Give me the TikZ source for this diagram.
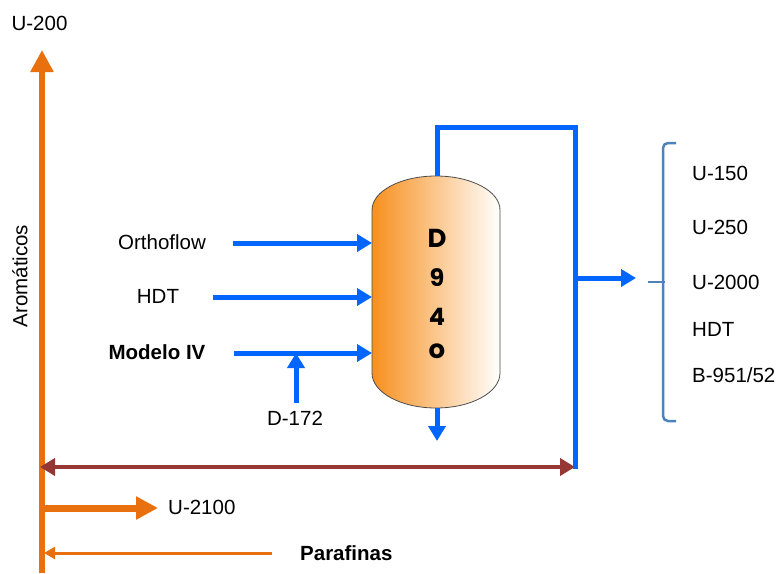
\documentclass[tikz,border=0pt]{standalone}
\usepackage{fontspec}
\setmainfont{Liberation Sans}
\newfontfamily\gothic{Poppins}
\usetikzlibrary{arrows.meta}
\definecolor{pipeblue}{RGB}{0,102,255}
\definecolor{feedorange}{RGB}{232,112,14}
\definecolor{maroon}{RGB}{149,55,53}
\definecolor{bracketblue}{RGB}{79,129,189}
\definecolor{vesselorange}{RGB}{247,144,30}
\tikzset{
  lbl/.style={font=\fontsize{20.5}{24}\selectfont, inner sep=0pt},
  blbl/.style={lbl, font=\fontsize{20.5}{24}\selectfont\bfseries},
  vtxt/.style={font=\gothic\bfseries\fontsize{26}{28}\selectfont, inner sep=0pt},
  bluepipe/.style={draw=pipeblue, line width=5pt},
  bluearrow/.style={bluepipe, -{Triangle[length=15pt,width=17pt]}},
  mainaxis/.style={draw=feedorange, line width=6pt, -{Triangle[length=22pt,width=22pt]}},
  thickorange/.style={draw=feedorange, line width=7pt, -{Triangle[length=22pt,width=22pt]}},
  thinorange/.style={draw=feedorange, line width=3pt, -{Triangle[length=11pt,width=12pt]}},
  maroonarrow/.style={draw=maroon, line width=4pt, {Triangle[length=15pt,width=17pt]}-{Triangle[length=15pt,width=17pt]}},
  bracket/.style={draw=bracketblue, line width=2.5pt, rounded corners=5pt}
}
\begin{document}
\begin{tikzpicture}[x=1pt,y=-1pt]
\useasboundingbox (0,0) rectangle (779,573);

% main orange axis (Aromaticos)
\coordinate (axbot) at (42,573);
\coordinate (axtop) at (42,50);
\draw[mainaxis] (axbot) -- (axtop);
\node[lbl] (u200) at (39.5,23) {U-200};
\node[lbl, rotate=90] (arom) at (20,276) {Aromáticos};

% vessel
\path[draw=black!70, line width=0.8pt, left color=vesselorange, right color=white]
  (372,210) -- (372,373) arc[start angle=180, end angle=360, x radius=64pt, y radius=35pt]
  -- (500,210) arc[start angle=0, end angle=180, x radius=64pt, y radius=34pt] -- cycle;
\coordinate (vtop) at (437,176);
\coordinate (vbot) at (437,408);
\coordinate (vin1) at (372,243);
\coordinate (vin2) at (372,297);
\coordinate (vin3) at (372,353);
\node[vtxt] (vD) at (437,238) {D};
\node[vtxt, font=\gothic\bfseries\fontsize{24}{28}\selectfont] (v9) at (437,278) {9};
\node[vtxt, font=\gothic\bfseries\fontsize{24}{28}\selectfont] (v4) at (437,317) {4};
\node[vtxt] (vo) at (437,351) {o};

% feeds
\node[lbl] (orth) at (162,242) {Orthoflow};
\node[lbl] (hdt) at (158,296) {HDT};
\node[blbl] (mod) at (157,352) {Modelo IV};
\node[lbl] (d172) at (295,418) {D-172};
\coordinate (orthst) at (233,243);
\coordinate (hdtst) at (213,297);
\coordinate (modst) at (234,353);
\coordinate (d172st) at (296,403);
\coordinate (d172en) at (296,353);
\draw[bluearrow] (orthst) -- (vin1);
\draw[bluearrow] (hdtst) -- (vin2);
\draw[bluearrow] (modst) -- (vin3);
\draw[bluearrow] (d172st) -- (d172en);

% bottom outlet
\coordinate (vbotend) at (437,441);
\draw[bluearrow] (vbot) -- (vbotend);

% overhead line
\coordinate (ovtl) at (437,127);
\coordinate (ovtr) at (575,127);
\coordinate (ovbr) at (575,469);
\coordinate (ovbranch) at (575,278);
\coordinate (ovend) at (636,278);
\draw[bluepipe] (vtop) -- (ovtl) -- (ovtr) -- (ovbr);
\draw[bluearrow] (ovbranch) -- (ovend);

% bracket
\coordinate (brtop) at (676,143);
\coordinate (brbot) at (676,421);
\coordinate (brmid) at (648,282);
\coordinate (brjoin) at (665,282);
\draw[bracket] (brtop) -- (663,143) -- (663,421) -- (brbot);
\draw[draw=bracketblue, line width=2.5pt] (brmid) -- (brjoin);
\node[lbl, anchor=west] (u150) at (692,173) {U-150};
\node[lbl, anchor=west] (u250) at (692,227) {U-250};
\node[lbl, anchor=west] (u2000) at (692,282) {U-2000};
\node[lbl, anchor=west] (hdt2) at (692,329) {HDT};
\node[lbl, anchor=west] (b951) at (692,375) {B-951/52};

% maroon double arrow
\coordinate (mrl) at (40,467);
\coordinate (mrr) at (575,467);
\draw[maroonarrow] (mrl) -- (mrr);

% U-2100
\coordinate (u21st) at (42,508);
\coordinate (u21en) at (158,508);
\draw[thickorange] (u21st) -- (u21en);
\node[lbl, anchor=west] (u2100) at (168,507) {U-2100};

% Parafinas
\coordinate (parst) at (272,553);
\coordinate (paren) at (44,553);
\draw[thinorange] (parst) -- (paren);
\node[blbl, anchor=west] (paraf) at (300,553) {Parafinas};
\end{tikzpicture}
\end{document}
